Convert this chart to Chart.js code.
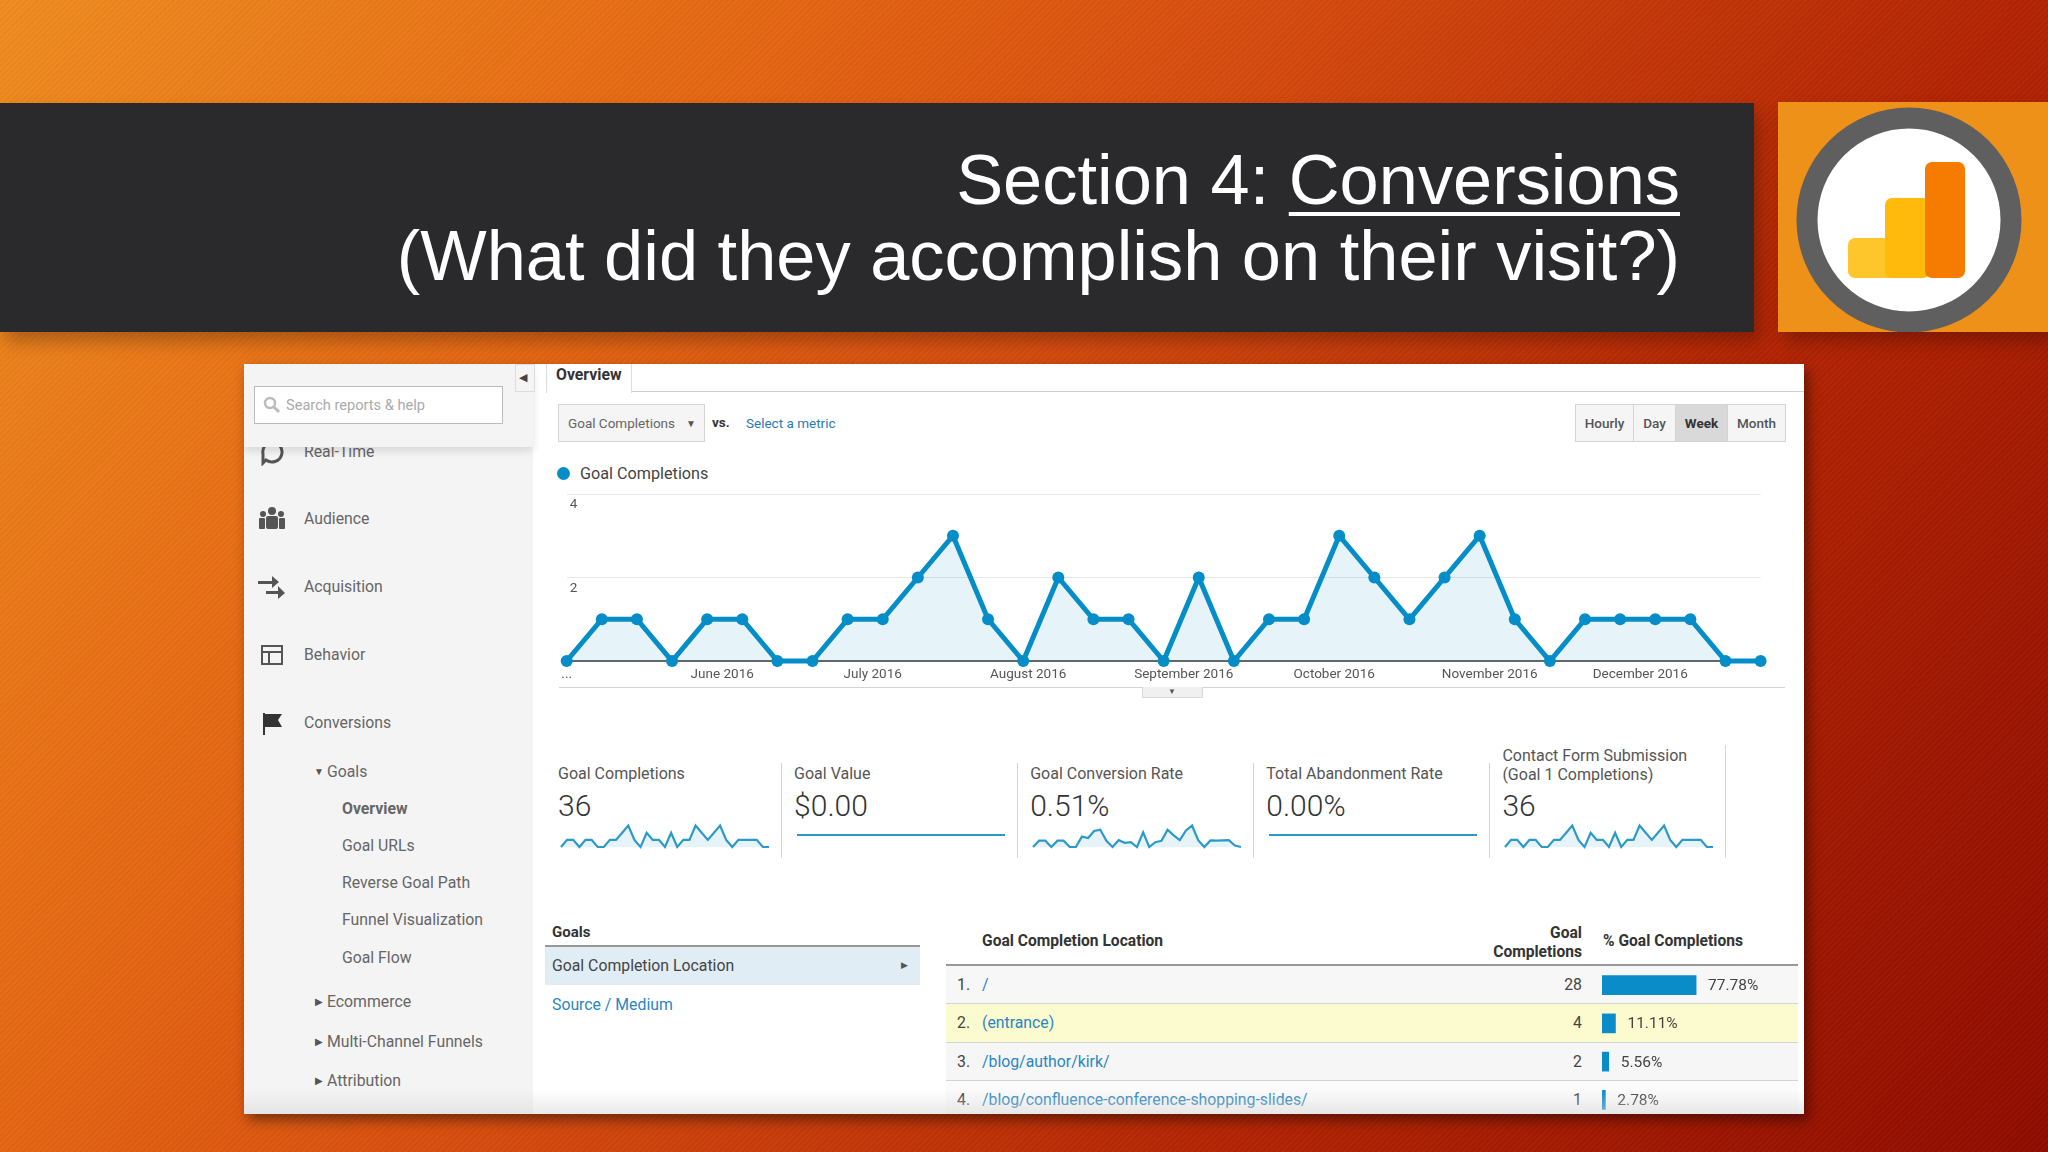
<!DOCTYPE html>
<html>
<head>
<meta charset="utf-8">
<title>Section 4: Conversions</title>
<script src="https://cdn.jsdelivr.net/npm/chart.js@4"></script>
<style>
html, body { margin: 0; padding: 0; width: 2048px; height: 1152px; overflow: hidden; }
body {
    position: relative;
    font-family: Roboto, sans-serif;
    background: linear-gradient(125deg, #ef8c1f 0%, #e46512 28%, #d54b0e 45%, #b32503 70%, #8e0b00 100%);
}
#stripes { position: absolute; inset: 0; background: repeating-linear-gradient(135deg, rgba(255,255,255,.025) 0 2px, rgba(0,0,0,.02) 2px 4px); }
#bar { position: absolute; left: 0; top: 103px; width: 1754px; height: 229px; background: #2a292c; box-shadow: 6px 10px 16px rgba(0,0,0,.25); }
.title { position: absolute; right: 368px; color: #fff; font-family: "Liberation Sans", sans-serif; font-size: 70.4px; line-height: 72px; white-space: nowrap; }
.title u { text-decoration-thickness: 4px; text-underline-offset: 8px; }
#logo { position: absolute; left: 1778px; top: 102px; width: 270px; height: 230px; background: #ee9118; box-shadow: 6px 10px 16px rgba(0,0,0,.25); }
#shot { position: absolute; left: 244px; top: 364px; width: 1560px; height: 750px; background: #fff; overflow: hidden; }
#shotShadow { position: absolute; left: 244px; top: 364px; width: 1560px; height: 750px; box-shadow: 4px 6px 12px rgba(0,0,0,.45); }
#inner { position: absolute; left: -244px; top: -364px; width: 2048px; height: 1152px; }
#side { position: absolute; left: 244px; top: 364px; width: 289px; height: 750px; background: #f4f4f5; }
#sideTop { position: absolute; left: 244px; top: 364px; width: 289px; height: 83px; background: #f4f4f5; box-shadow: 0 4px 8px rgba(0,0,0,.12); }
.t { position: absolute; white-space: nowrap; transform: translateY(-50%); font-size: 15.8px; color: #555; }
.r { transform: translate(-100%, -50%); text-align: right; }
.b { font-weight: 700; color: #333; }
.link { color: #2a86c4; }
.side { font-size: 15.8px; color: #666; }
.box { position: absolute; box-sizing: border-box; }
.ctl { background: #f5f5f5; border: 1px solid #d4d4d4; font-size: 13.5px; font-weight: 500; color: #555; display: flex; align-items: center; justify-content: center; }
.v { position: absolute; background: #d5d5d5; width: 1px; }
.h { position: absolute; background: #ddd; height: 1px; }
canvas { position: absolute; }
#fade { position: absolute; left: 244px; top: 1090px; width: 1560px; height: 24px; background: linear-gradient(rgba(220,220,220,0), rgba(215,215,215,.55)); }
</style>
</head>
<body>
<div id="stripes"></div>
<div id="bar"></div>
<div class="title" style="top:144px">Section 4: <u>Conversions</u></div>
<div class="title" style="top:220px">(What did they accomplish on their visit?)</div>
<div id="logo">
  <svg width="270" height="230">
    <circle cx="131" cy="118" r="102" fill="#fff" stroke="#5f5f5f" stroke-width="21"/>
    <rect x="70" y="136" width="60" height="40" rx="7" fill="#ffc62b"/>
    <rect x="107" y="96" width="45" height="80" rx="7" fill="#ffba0c"/>
    <rect x="147" y="60" width="40" height="116" rx="7" fill="#f57c00"/>
  </svg>
</div>
<div id="shotShadow"></div>
<div id="shot"><div id="inner">
  <div id="side"></div>

  <span class="t side" style="left:304px;top:451px">Real-Time</span>
  <svg class="box" style="left:258px;top:440px" width="28" height="26"><path d="M14 2a10 10 0 1 1-6 18l-3 3v-9A10 10 0 0 1 14 2z" fill="none" stroke="#555" stroke-width="3"/></svg>
  <div id="sideTop"></div>
  <div class="box" style="left:254px;top:386px;width:249px;height:38px;background:#fff;border:1px solid #bbb"></div>
  <svg class="box" style="left:263px;top:396px" width="18" height="18"><circle cx="7" cy="7" r="5" fill="none" stroke="#bbb" stroke-width="2.5"/><path d="M11 11l5 5" stroke="#bbb" stroke-width="3"/></svg>
  <span class="t" style="left:286px;top:405px;font-size:14.6px;color:#aaa">Search reports &amp; help</span>
  <div class="box" style="left:515px;top:364px;width:20px;height:28px;background:#f5f5f5;border:1px solid #ddd"></div>
  <span class="t" style="left:519px;top:377px;font-size:11px;color:#444">◀</span>

  <svg class="box" style="left:258px;top:506px" width="28" height="24" fill="#555"><circle cx="14" cy="5" r="4"/><circle cx="5" cy="8" r="3"/><circle cx="23" cy="8" r="3"/><rect x="8" y="10" width="12" height="13" rx="2"/><rect x="1" y="12" width="6" height="11" rx="1"/><rect x="21" y="12" width="6" height="11" rx="1"/></svg>
  <span class="t side" style="left:304px;top:518px">Audience</span>
  <svg class="box" style="left:258px;top:574px" width="28" height="26" fill="#555"><path d="M0 7h14V2l7 6-7 6V10H0z"/><path d="M8 17h12v-5l7 7-7 6v-5H8z"/></svg>
  <span class="t side" style="left:304px;top:586px">Acquisition</span>
  <svg class="box" style="left:261px;top:645px" width="22" height="20" fill="none" stroke="#555" stroke-width="2"><rect x="1" y="1" width="20" height="18"/><path d="M1 7h20M8 7v12"/></svg>
  <span class="t side" style="left:304px;top:654px">Behavior</span>
  <svg class="box" style="left:263px;top:712px" width="20" height="24"><path d="M1 1v22" stroke="#333" stroke-width="2"/><path d="M2 2h17l-4 6 4 7H2z" fill="#333"/></svg>
  <span class="t side" style="left:304px;top:722px">Conversions</span>

  <span class="t" style="left:314px;top:771px;font-size:10px;color:#555">▼</span>
  <span class="t side" style="left:327px;top:771px">Goals</span>
  <span class="t side b" style="left:342px;top:808px">Overview</span>
  <span class="t side" style="left:342px;top:845px">Goal URLs</span>
  <span class="t side" style="left:342px;top:882px">Reverse Goal Path</span>
  <span class="t side" style="left:342px;top:919px">Funnel Visualization</span>
  <span class="t side" style="left:342px;top:957px">Goal Flow</span>
  <span class="t" style="left:315px;top:1001px;font-size:10px;color:#555">▶</span>
  <span class="t side" style="left:327px;top:1001px">Ecommerce</span>
  <span class="t" style="left:315px;top:1041px;font-size:10px;color:#555">▶</span>
  <span class="t side" style="left:327px;top:1041px">Multi-Channel Funnels</span>
  <span class="t" style="left:315px;top:1080px;font-size:10px;color:#555">▶</span>
  <span class="t side" style="left:327px;top:1080px">Attribution</span>

  <!-- tab strip -->
  <div class="h" style="left:546px;top:391px;width:1258px;background:#ccc"></div>
  <div class="box" style="left:546px;top:364px;width:86px;height:29px;background:#fff;border-left:1px solid #ddd;border-right:1px solid #ddd"></div>
  <span class="t b" style="left:556px;top:374px">Overview</span>

  <!-- metric selectors -->
  <div class="box ctl" style="left:558px;top:404px;width:147px;height:38px;justify-content:flex-start;padding-left:9px;font-weight:400;color:#666">Goal Completions</div>
  <span class="t" style="left:686px;top:423px;font-size:10px;color:#555">▼</span>
  <span class="t b" style="left:712px;top:422px;font-size:13.5px">vs.</span>
  <span class="t" style="left:746px;top:423px;font-size:13.5px;color:#2a7ab5">Select a metric</span>
  <div class="box ctl" style="left:1575px;top:404px;width:59px;height:38px">Hourly</div>
  <div class="box ctl" style="left:1633px;top:404px;width:43px;height:38px">Day</div>
  <div class="box ctl" style="left:1675px;top:404px;width:53px;height:38px;background:#d9d9d9;color:#333;font-weight:700">Week</div>
  <div class="box ctl" style="left:1727px;top:404px;width:59px;height:38px">Month</div>

  <div class="box" style="left:557px;top:467px;width:13px;height:13px;border-radius:50%;background:#058dc7"></div>
  <span class="t" style="left:580px;top:473px;font-size:16.2px;color:#444">Goal Completions</span>

  <canvas id="mainChart" width="1240" height="210" style="left:540px;top:480px;width:1240px;height:210px"></canvas>
  <div class="h" style="left:559px;top:687px;width:1226px;background:#d5d5d5"></div>
  <div class="box" style="left:1142px;top:687px;width:61px;height:11px;background:#f0f0f0;border:1px solid #d8d8d8;border-top:none"></div>
  <span class="t" style="left:1168px;top:691px;font-size:8px;color:#555">▼</span>

  <div id="kpis"></div>

  <!-- goals list -->
  <span class="t b" style="left:552px;top:932px;font-size:15px">Goals</span>
  <div class="box" style="left:545px;top:945px;width:375px;height:2px;background:#999"></div>
  <div class="box" style="left:545px;top:947px;width:375px;height:38px;background:#e0edf5"></div>
  <span class="t" style="left:552px;top:965px;color:#444">Goal Completion Location</span>
  <span class="t" style="left:901px;top:965px;font-size:9px;color:#555">▶</span>
  <span class="t link" style="left:552px;top:1004px">Source / Medium</span>

  <!-- table -->
  <span class="t b" style="left:982px;top:941px;font-size:15.6px">Goal Completion Location</span>
  <span class="t b r" style="left:1582px;top:933px;font-size:15.6px">Goal</span>
  <span class="t b r" style="left:1582px;top:952px;font-size:15.6px">Completions</span>
  <span class="t b" style="left:1603px;top:941px;font-size:15.6px">% Goal Completions</span>
  <div class="box" style="left:946px;top:964px;width:852px;height:2px;background:#999"></div>
  <div id="rows"></div>
  <canvas id="barChart" width="260" height="153" style="left:1602px;top:966px;width:260px;height:153px"></canvas>
  <div id="fade"></div>
</div></div>

<script>
// Weekly goal completions, May 2016 to Jan 2017
const weekStarts = [
    "2016-05-15","2016-05-22","2016-05-29","2016-06-05","2016-06-12","2016-06-19","2016-06-26",
    "2016-07-03","2016-07-10","2016-07-17","2016-07-24","2016-07-31","2016-08-07","2016-08-14",
    "2016-08-21","2016-08-28","2016-09-04","2016-09-11","2016-09-18","2016-09-25","2016-10-02",
    "2016-10-09","2016-10-16","2016-10-23","2016-10-30","2016-11-06","2016-11-13","2016-11-20",
    "2016-11-27","2016-12-04","2016-12-11","2016-12-18","2016-12-25","2017-01-01","2017-01-08"
];
const goalCompletions = [0,1,1,0,1,1,0,0,1,1,2,3,1,0,2,1,1,0,2,0,1,1,3,2,1,2,3,1,0,1,1,1,1,0,0];
const goalValue =       [0,0,0,0,0,0,0,0,0,0,0,0,0,0,0,0,0,0,0,0,0,0,0,0,0,0,0,0,0,0,0,0,0,0,0];
const conversionRate = [0,.44,.44,0,.44,.44,0,0,.73,.63,1.12,1.21,.44,0,.48,.29,.34,0,1.02,0,.34,.44,1.21,.82,.48,1.16,1.5,.48,0,.46,.44,.46,.48,.1,0];
const abandonmentRate = [0,0,0,0,0,0,0,0,0,0,0,0,0,0,0,0,0,0,0,0,0,0,0,0,0,0,0,0,0,0,0,0,0,0,0];
const contactForm =     [0,1,1,0,1,1,0,0,1,1,2,3,1,0,2,1,1,0,2,0,1,1,3,2,1,2,3,1,0,1,1,1,1,0,0];

const monthLabels = ["...","June 2016","July 2016","August 2016","September 2016","October 2016","November 2016","December 2016"];
const monthDates = ["2016-05-15","2016-06-15","2016-07-15","2016-08-15","2016-09-15","2016-10-15","2016-11-15","2016-12-15"];
const yTicks = [2, 4];

const kpiLabels = [["Goal Completions"],["Goal Value"],["Goal Conversion Rate"],["Total Abandonment Rate"],["Contact Form Submission","(Goal 1 Completions)"]];
const kpiValues = ["36","$0.00","0.51%","0.00%","36"];
const kpiSeries = [goalCompletions, goalValue, conversionRate, abandonmentRate, contactForm];

const locations = ["/","(entrance)","/blog/author/kirk/","/blog/confluence-conference-shopping-slides/"];
const locationCompletions = [28, 4, 2, 1];
const locationPercents = [77.78, 11.11, 5.56, 2.78];

const BLUE = "#058dc7";
const ROW_COLORS = ["#f7f7f8", "#fbfbcf", "#f6f6f7", "#fbfbfb"];

function dayOffset(iso) {
    return (Date.parse(iso) - Date.parse(weekStarts[0])) / 864e5;
}

Chart.defaults.font.family = "Roboto, sans-serif";
Chart.defaults.animation = false;
Chart.defaults.responsive = false;
Chart.defaults.devicePixelRatio = 1;
Chart.defaults.plugins.legend.display = false;
Chart.defaults.plugins.tooltip.enabled = false;

const monthDays = monthDates.map(dayOffset);

new Chart(document.getElementById("mainChart"), {
    type: "line",
    data: {
        datasets: [{
            data: weekStarts.map((d, i) => ({ x: dayOffset(d), y: goalCompletions[i] })),
            borderColor: BLUE,
            backgroundColor: "rgba(5,141,199,0.10)",
            borderWidth: 5,
            pointRadius: 6,
            pointBackgroundColor: BLUE,
            pointBorderWidth: 0,
            tension: 0,
            fill: "origin",
            clip: false,
        }],
    },
    options: {
        layout: { autoPadding: false, padding: { left: 26.7, right: 19.4, top: 14, bottom: 0 } },
        scales: {
            x: {
                type: "linear",
                min: 0,
                max: dayOffset(weekStarts[weekStarts.length - 1]),
                afterBuildTicks: axis => { axis.ticks = monthDays.map(value => ({ value })); },
                afterFit: axis => { axis.height = 29; },
                ticks: {
                    autoSkip: false, maxRotation: 0, padding: 6,
                    color: "#555", font: { size: 13.5 },
                    callback: value => monthLabels[monthDays.indexOf(value)],
                },
                grid: { display: false, drawTicks: false },
                border: { color: "#666", width: 2 },
            },
            y: {
                min: 0,
                max: 4,
                afterBuildTicks: axis => { axis.ticks = yTicks.map(value => ({ value })); },
                afterFit: axis => { axis.width = 0; },
                ticks: { mirror: true, padding: 3, labelOffset: 11, color: "#555", font: { size: 13.5 } },
                grid: { color: "#e6e6e6", drawTicks: false },
                border: { display: false },
            },
        },
    },
});

// KPI columns with sparklines
const kpiEl = document.getElementById("kpis");
kpiLabels.forEach((lines, i) => {
    const left = 558 + 236.1 * i;
    lines.forEach((line, j) => {
        const top = lines.length === 1 ? 772.5 : 754.5 + 19 * j;
        kpiEl.insertAdjacentHTML("beforeend", `<span class="t" style="left:${left}px;top:${top}px;font-size:16px">${line}</span>`);
    });
    kpiEl.insertAdjacentHTML("beforeend", `<span class="t" style="left:${left}px;top:805px;font-size:30px;font-weight:300;color:#333">${kpiValues[i]}</span>`);
    const divTop = i === 4 ? 745 : 763;
    kpiEl.insertAdjacentHTML("beforeend", `<div class="v" style="left:${left + 222.5}px;top:${divTop}px;height:${858 - divTop}px"></div>`);

    const canvas = document.createElement("canvas");
    canvas.width = 212;
    canvas.height = 40;
    canvas.style.cssText = `left:${left + 1}px;top:815px;width:212px;height:40px`;
    kpiEl.appendChild(canvas);

    const series = kpiSeries[i];
    const flat = Math.max(...series) === 0;
    new Chart(canvas, {
        type: "line",
        data: {
            labels: weekStarts,
            datasets: [{
                data: series,
                borderColor: "#2b9ac9",
                backgroundColor: "rgba(5,141,199,0.10)",
                borderWidth: 2.2,
                pointRadius: 0,
                tension: 0,
                fill: "origin",
                clip: false,
            }],
        },
        options: {
            layout: { autoPadding: false, padding: flat ? { left: 2, right: 2, top: 10, bottom: 10 } : { left: 2, right: 2, top: 10.6, bottom: 8 } },
            scales: {
                x: { display: false },
                y: { display: false, min: flat ? -1 : 0, max: flat ? 1 : Math.max(...series) },
            },
        },
    });
});

// table rows
const rowsEl = document.getElementById("rows");
locations.forEach((loc, i) => {
    const rowTop = 966 + 38.3 * i;
    const mid = rowTop + 18;
    rowsEl.insertAdjacentHTML("beforeend",
        `<div class="box" style="left:946px;top:${rowTop}px;width:852px;height:38.3px;background:${ROW_COLORS[i]};border-bottom:1.5px solid #d4d4d4"></div>` +
        `<span class="t" style="left:957px;top:${mid}px;color:#444">${i + 1}.</span>` +
        `<span class="t link" style="left:982px;top:${mid}px">${loc}</span>` +
        `<span class="t r" style="left:1582px;top:${mid}px;color:#444">${locationCompletions[i]}</span>`);
});

// draws the percent text right after each bar
const percentLabels = {
    id: "percentLabels",
    afterDatasetsDraw(chart) {
        const { ctx } = chart;
        ctx.save();
        ctx.font = "15.5px Roboto, sans-serif";
        ctx.fillStyle = "#444";
        ctx.textBaseline = "middle";
        chart.getDatasetMeta(0).data.forEach((bar, i) => {
            ctx.fillText(locationPercents[i].toFixed(2) + "%", bar.x + 12, bar.y + 1);
        });
        ctx.restore();
    },
};

new Chart(document.getElementById("barChart"), {
    type: "bar",
    data: {
        labels: locations,
        datasets: [{ data: locationPercents, backgroundColor: "#0a8cc8", barThickness: 19 }],
    },
    options: {
        indexAxis: "y",
        layout: { autoPadding: false, padding: { right: 139 } },
        scales: {
            x: { display: false, min: 0, max: 100 },
            y: { display: false },
        },
    },
    plugins: [percentLabels],
});
</script>
</body>
</html>
